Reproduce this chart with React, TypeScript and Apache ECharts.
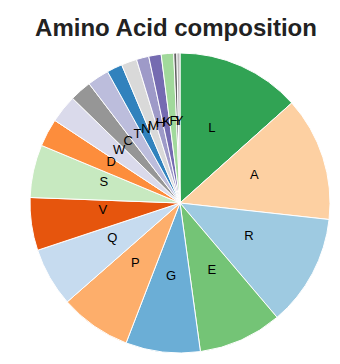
import React, { useEffect, useRef } from "react";
import * as echarts from "echarts";

// Residue counts per amino acid (one-letter codes), largest first
const residues = ["L", "A", "R", "E", "G", "P", "Q", "V", "S", "D", "W", "C", "T", "N", "M", "H", "K", "F", "I", "Y"];
const counts = [40, 40, 36, 27, 24, 23, 19, 17, 17, 9, 9, 7, 7, 5, 5, 4, 4, 4, 1, 1];
const sliceColors = [
  "#31a354", "#fdd0a2", "#9ecae1", "#74c476", "#6baed6", "#fdae6b", "#c6dbef",
  "#e6550d", "#c7e9c0", "#fd8d3c", "#dadaeb", "#969696", "#bcbddc", "#3182bd",
  "#d9d9d9", "#9e9ac8", "#756bb1", "#a1d99b", "#636363", "#bdbdbd",
];

const FONT = "'Liberation Sans', Arial, Helvetica, sans-serif";

export default function App() {
  const ref = useRef<HTMLDivElement>(null);

  useEffect(() => {
    document.body.style.margin = "0";
    const chart = echarts.init(ref.current!, undefined, { renderer: "svg" });
    chart.setOption({
      animation: false,
      backgroundColor: "#ffffff",
      title: {
        text: "Amino Acid composition",
        left: 171,
        textAlign: "center",
        top: 10,
        textStyle: {
          fontFamily: FONT,
          fontSize: 24,
          fontWeight: "bold",
          color: "#222222",
        },
      },
      series: [
        {
          type: "pie",
          center: [180, 203],
          radius: [0, 150],
          startAngle: 90,
          clockwise: true,
          silent: true,
          avoidLabelOverlap: false,
          minShowLabelAngle: 0,
          labelLayout: { hideOverlap: false },
          label: {
            show: true,
            position: "inside",
            formatter: "{b}",
            fontFamily: FONT,
            fontSize: 13,
            color: "#000000",
            overflow: "none",
            // letters sit on the slice centroid as their baseline
            offset: [0, -4.5],
          },
          labelLine: { show: false },
          itemStyle: { borderColor: "#ffffff", borderWidth: 1 },
          emphasis: { disabled: true },
          data: residues.map((name, i) => ({
            name,
            value: counts[i],
            itemStyle: { color: sliceColors[i] },
          })),
        },
      ],
    });
    return () => chart.dispose();
  }, []);

  return <div ref={ref} style={{ width: 340, height: 364 }} />;
}
